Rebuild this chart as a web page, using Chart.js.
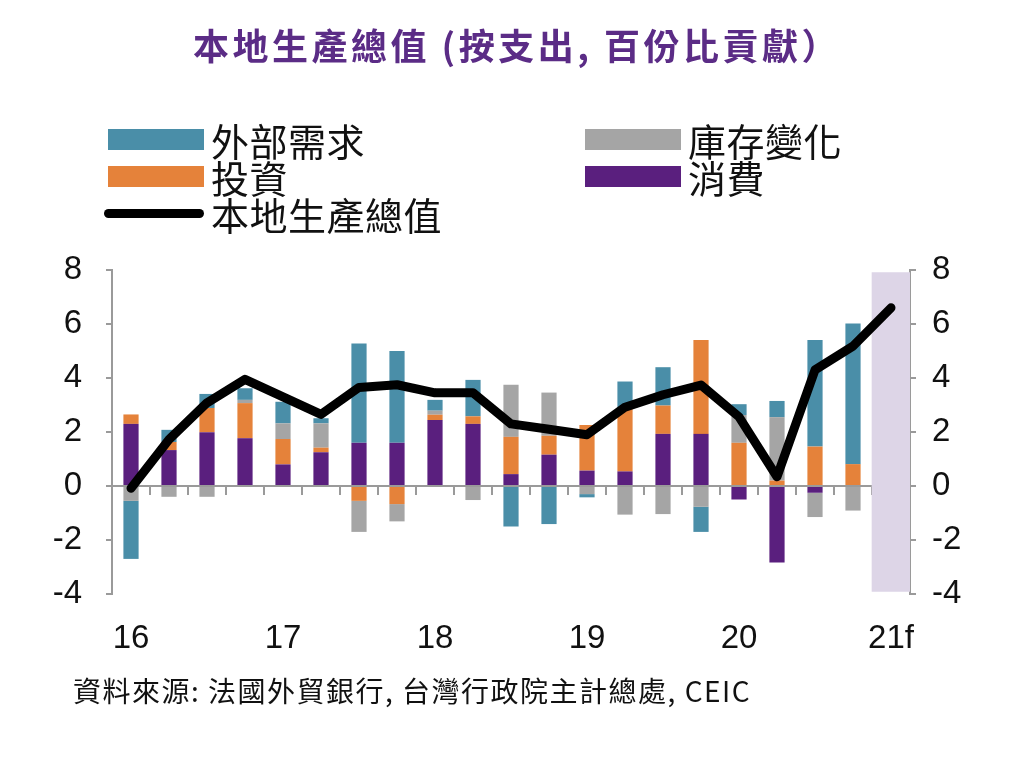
<!DOCTYPE html>
<html>
<head>
<meta charset="utf-8">
<title>本地生產總值 (按支出, 百份比貢獻）</title>
<script src="https://cdn.jsdelivr.net/npm/chart.js@4.4.1/dist/chart.umd.min.js"></script>
<style>
  body { margin: 0; background: #fff; }
  #wrap { position: relative; width: 1024px; height: 768px; overflow: hidden;
          font-family: "Noto Sans CJK TC", "Liberation Sans", sans-serif; color: #111; }
  #box { position: absolute; left: 0; top: 0; width: 1024px; height: 768px; }
  .title { position: absolute; left: 12px; top: 18px; width: 1010px; text-align: center;
           font-size: 36px; font-weight: bold; color: #5b2c86; line-height: 52px; letter-spacing: 3.5px; }
  #legend { position: absolute; left: 108px; top: 121px; display: grid;
            grid-template-columns: 477px 320px; grid-auto-rows: 37px; }
  .item { display: flex; align-items: center; font-size: 38px; line-height: 37px;
          letter-spacing: 0.5px; white-space: nowrap; }
  .sw { width: 96px; height: 21px; margin-right: 7px; flex: none; }
  .sw.line { height: 9px; border-radius: 5px; width: 100px; margin-left: -4px; }
  .source { position: absolute; left: 73px; top: 671px; font-size: 28px; line-height: 38px;
            letter-spacing: 1.5px; white-space: nowrap; }
</style>
</head>
<body>
<div id="wrap">
  <div id="box"><canvas id="gdp-chart"></canvas></div>
  <div class="title">本地生產總值 (按支出, 百份比貢獻）</div>
  <div id="legend"></div>
  <div class="source">資料來源: 法國外貿銀行, 台灣行政院主計總處, CEIC</div>
</div>
<script>
// quarters 1Q16 .. 1Q21 (forecast)
const categories = ['1Q16', '2Q16', '3Q16', '4Q16', '1Q17', '2Q17', '3Q17', '4Q17',
                    '1Q18', '2Q18', '3Q18', '4Q18', '1Q19', '2Q19', '3Q19', '4Q19',
                    '1Q20', '2Q20', '3Q20', '4Q20', '1Q21'];
const yearLabels = ['16', '17', '18', '19', '20', '21f'];

// contributions, percentage points
const consumption = [2.3, 1.33, 1.99, 1.77, 0.8, 1.25, 1.6, 1.6, 2.44, 2.3, 0.44, 1.16,
                     0.57, 0.54, 1.93, 1.93, -0.5, -2.83, -0.25, 0, null];
const investment = [0.35, 0.3, 0.9, 1.3, 0.94, 0.17, -0.55, -0.67, 0.2, 0.28, 1.38, 0.7,
                    1.69, 2.37, 1.05, 3.48, 1.6, 0.2, 1.46, 0.81, null];
const inventory = [-0.55, -0.4, -0.4, 0.12, 0.58, 0.9, -1.15, -0.64, 0.15, -0.52, 1.93, 1.6,
                   -0.3, -1.06, -1.04, -0.77, 1.03, 2.35, -0.9, -0.91, null];
const external = [-2.15, 0.45, 0.52, 0.43, 0.8, 0.19, 3.68, 3.4, 0.4, 1.35, -1.5, -1.41,
                  -0.12, 0.96, 1.42, -0.93, 0.4, 0.6, 3.95, 5.21, null];
const gdp = [-0.08, 1.72, 3.08, 3.95, 3.3, 2.65, 3.65, 3.75, 3.45, 3.45, 2.3, 2.1,
             1.9, 2.92, 3.38, 3.74, 2.56, 0.34, 4.3, 5.18, 6.6];
// forecast period band
const forecast = [null, null, null, null, null, null, null, null, null, null, null, null,
                  null, null, null, null, null, null, null, null, [-3.9, 7.9]];

const axisColor = '#9a9a9a';
const tickFont = { family: 'Liberation Sans', size: 33 };

const barSet = (label, data, color) => ({
    type: 'bar', label, data, backgroundColor: color, borderWidth: 0,
    barPercentage: 0.8, categoryPercentage: 0.5, order: 1
});

const datasets = [
    barSet('消費', consumption, '#5a1f7e'),
    barSet('投資', investment, '#e5823a'),
    barSet('庫存變化', inventory, '#a5a5a5'),
    barSet('外部需求', external, '#4a8ea8'),
    {
        type: 'bar', label: 'forecast', data: forecast, backgroundColor: '#ddd5e7',
        borderWidth: 0, barPercentage: 1, categoryPercentage: 1, order: 1
    },
    {
        type: 'line', label: '本地生產總值', data: gdp, borderColor: '#000',
        backgroundColor: '#000', borderWidth: 9, pointRadius: 0, tension: 0,
        borderCapStyle: 'round', borderJoinStyle: 'round', stack: 'gdp', order: 0
    }
];

// legend, laid out in two columns like the original
const legendOrder = ['外部需求', '庫存變化', '投資', '消費', '本地生產總值'];
const legendEl = document.getElementById('legend');
legendOrder.forEach(name => {
    const ds = datasets.find(d => d.label === name);
    const item = document.createElement('div');
    item.className = 'item';
    const sw = document.createElement('span');
    sw.className = ds.type === 'line' ? 'sw line' : 'sw';
    sw.style.background = ds.type === 'line' ? ds.borderColor : ds.backgroundColor;
    item.appendChild(sw);
    item.appendChild(document.createTextNode(name));
    legendEl.appendChild(item);
});

new Chart(document.getElementById('gdp-chart'), {
    data: { labels: categories, datasets },
    options: {
        responsive: true,
        maintainAspectRatio: false,
        animation: false,
        layout: { padding: { top: 270, bottom: 0, left: 0, right: 0 } },
        plugins: { legend: { display: false }, tooltip: { enabled: false } },
        scales: {
            x: {
                type: 'category', stacked: true, position: { y: 0 }, offset: true,
                grid: { drawOnChartArea: false, drawTicks: true, tickLength: 8, offset: true,
                        color: axisColor, lineWidth: 2 },
                border: { display: true, color: axisColor, width: 2 },
                ticks: { display: false }
            },
            x2: {
                type: 'category', position: 'bottom', offset: true,
                grid: { display: false, drawTicks: false },
                border: { display: false },
                ticks: {
                    autoSkip: false, maxRotation: 0, padding: 25, font: tickFont, color: '#111',
                    callback: (v, i) => i % 4 === 0 ? yearLabels[i / 4] : ''
                },
                afterFit: s => { s.height = 174; }
            },
            y: {
                stacked: true, position: 'left', min: -4, max: 8,
                ticks: { stepSize: 2, padding: 24, font: tickFont, color: '#111' },
                grid: { drawOnChartArea: false, tickLength: 6, color: axisColor, lineWidth: 2 },
                border: { color: axisColor, width: 2 },
                afterFit: s => { s.width = 112; }
            },
            y2: {
                position: 'right', min: -4, max: 8,
                ticks: { stepSize: 2, padding: 16, font: tickFont, color: '#111' },
                grid: { drawOnChartArea: false, tickLength: 6, color: axisColor, lineWidth: 2 },
                border: { color: axisColor, width: 2 },
                afterFit: s => { s.width = 114; }
            }
        }
    }
});
</script>
</body>
</html>
